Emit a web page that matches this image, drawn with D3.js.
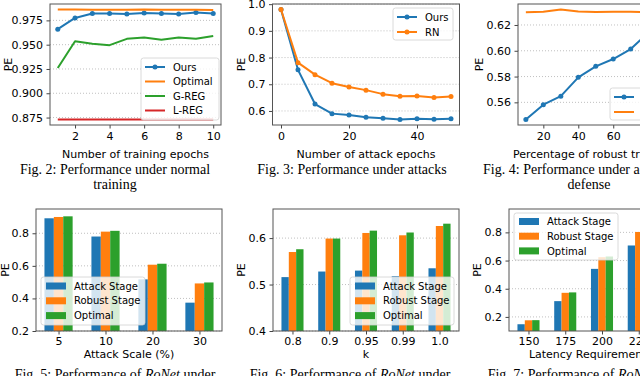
<!DOCTYPE html>
<html>
<head>
<meta charset="utf-8">
<script src="https://cdn.jsdelivr.net/npm/d3@7"></script>
<style>
body { margin: 0; background: #fff; }
svg { display: block; }
.tick text { font-family: "DejaVu Sans", sans-serif; font-size: 11px; fill: #000; }
.tick line { stroke: #444; }
.axisText { font-family: "DejaVu Sans", sans-serif; font-size: 11px; fill: #000; }
.legendText { font-family: "DejaVu Sans", sans-serif; font-size: 10px; fill: #000; }
.caption { font-family: "Liberation Serif", "Times New Roman", serif; font-size: 14px; fill: #000; }
</style>
</head>
<body>
<div class="chart"></div>
<script>
// Fig. 2 - normal training
var trainEpochs = [1, 2, 3, 4, 5, 6, 7, 8, 9, 10];
var trainOurs = [0.966, 0.9775, 0.982, 0.982, 0.9815, 0.9825, 0.982, 0.9815, 0.983, 0.982];
var trainOptimal = [0.9862, 0.9862, 0.986, 0.986, 0.986, 0.9862, 0.986, 0.986, 0.986, 0.9858];
var trainGReg = [0.926, 0.9535, 0.951, 0.9495, 0.956, 0.9575, 0.955, 0.9575, 0.956, 0.959];
var trainLReg = [0.873, 0.873, 0.873, 0.873, 0.873, 0.873, 0.873, 0.873, 0.873, 0.873];

// Fig. 3 - attacks
var attackEpochs = [0, 5, 10, 15, 20, 25, 30, 35, 40, 45, 50];
var attackOurs = [0.98, 0.754, 0.626, 0.590, 0.585, 0.576, 0.573, 0.568, 0.571, 0.569, 0.571];
var attackRN = [0.98, 0.781, 0.736, 0.704, 0.690, 0.678, 0.663, 0.655, 0.656, 0.650, 0.654];

// Fig. 4 - robust defense
var robustPct = [10, 20, 30, 40, 50, 60, 70, 80, 90, 100];
var robustOurs = [0.5467, 0.5582, 0.5648, 0.5794, 0.5879, 0.5936, 0.6013, 0.614, 0.622, 0.628];
var robustOptimal = [0.6298, 0.6302, 0.632, 0.6305, 0.630, 0.6302, 0.6302, 0.630, 0.630, 0.630];

// Fig. 5 - attack scale
var scaleCats = ["5", "10", "20", "30"];
var scaleAttack = [0.892, 0.780, 0.517, 0.374];
var scaleRobust = [0.900, 0.810, 0.607, 0.492];
var scaleOptimal = [0.904, 0.815, 0.613, 0.498];

// Fig. 6 - k
var kCats = ["0.8", "0.9", "0.95", "0.99", "1.0"];
var kAttack = [0.516, 0.528, 0.530, 0.518, 0.535];
var kRobust = [0.570, 0.599, 0.611, 0.606, 0.626];
var kOptimal = [0.576, 0.599, 0.616, 0.612, 0.631];

// Fig. 7 - latency
var latCats = ["150", "175", "200", "225", "250"];
var latAttack = [0.148, 0.312, 0.541, 0.707, 0.80];
var latRobust = [0.176, 0.371, 0.624, 0.803, 0.90];
var latOptimal = [0.177, 0.374, 0.629, 0.81, 0.92];

var blue = "#1f77b4", orange = "#ff7f0e", green = "#2ca02c", red = "#d62728";

var svg = d3.select(".chart")
  .append("svg")
  .attr("width", 640)
  .attr("height", 376);

function pad(ext) {
  var r = ext[1] - ext[0];
  return [ext[0] - r * 0.05, ext[1] + r * 0.05];
}

function drawFrame(g, box, x, y, cfg) {
  // grid
  g.append("g").selectAll("line")
    .data(cfg.yTicks)
    .enter()
    .append("line")
    .attr("x1", box.x0).attr("x2", box.x1)
    .attr("y1", d => y(d)).attr("y2", d => y(d))
    .attr("stroke", "#b0b0b0")
    .attr("stroke-width", 0.8)
    .attr("stroke-dasharray", "1,2");

  var bottomAxis = d3.axisBottom(x).tickSize(3.5).tickPadding(cfg.xPad || 3.5)
    .tickValues(cfg.xTicks).tickFormat(cfg.xTickFormat);
  var leftAxis = d3.axisLeft(y).tickValues(cfg.yTicks).tickFormat(d3.format(cfg.yFormat))
    .tickSize(3.5).tickPadding(3.5);

  g.append("g")
    .attr("transform", `translate(0, ${box.y1})`)
    .call(bottomAxis)
    .call(a => a.select(".domain").remove());
  g.append("g")
    .attr("transform", `translate(${box.x0}, 0)`)
    .call(leftAxis)
    .call(a => a.select(".domain").remove());

  g.append("text")
    .attr("class", "axisText")
    .attr("text-anchor", "middle")
    .attr("x", (box.x0 + box.x1) / 2)
    .attr("y", box.y1 + cfg.xLabelDy)
    .text(cfg.xLabel);

  g.append("text")
    .attr("class", "axisText")
    .attr("text-anchor", "middle")
    .attr("transform", `translate(${cfg.yLabelX}, ${(box.y0 + box.y1) / 2}) rotate(-90)`)
    .attr("dy", "0.36em")
    .text("PE");
}

function drawBox(g, box) {
  g.append("rect")
    .attr("x", box.x0).attr("y", box.y0)
    .attr("width", box.x1 - box.x0).attr("height", box.y1 - box.y0)
    .attr("fill", "none")
    .attr("stroke", "#555")
    .attr("stroke-width", 1);
}

function drawLegend(g, lg, items, kind) {
  g.append("rect")
    .attr("x", lg.x).attr("y", lg.y)
    .attr("width", lg.w).attr("height", lg.h)
    .attr("rx", 2.5)
    .attr("fill", "#fff").attr("fill-opacity", 0.8)
    .attr("stroke", "#d0d0d0").attr("stroke-width", 0.8);
  items.forEach(function(it, i) {
    var cy = lg.y + lg.first + i * lg.step;
    if (kind === "bar") {
      g.append("rect")
        .attr("x", lg.x + 5).attr("y", cy - 3.5)
        .attr("width", 20).attr("height", 7)
        .attr("fill", it.color);
    } else {
      g.append("line")
        .attr("x1", lg.x + 4).attr("x2", lg.x + 24)
        .attr("y1", cy).attr("y2", cy)
        .attr("stroke", it.color).attr("stroke-width", 2);
      if (it.marker) {
        g.append("circle").attr("cx", lg.x + 14).attr("cy", cy).attr("r", 2.5).attr("fill", it.color);
      }
    }
    g.append("text")
      .attr("class", "legendText")
      .attr("x", lg.x + (kind === "bar" ? 33 : 32))
      .attr("y", cy)
      .attr("dy", "0.36em")
      .text(it.label);
  });
}

function linePanel(cfg) {
  var box = cfg.box;
  var g = svg.append("g");
  var all = [];
  cfg.series.forEach(s => { all = all.concat(s.values); });
  var x = d3.scaleLinear().domain(pad(d3.extent(cfg.xs))).range([box.x0, box.x1]);
  var y = d3.scaleLinear().domain(pad(d3.extent(all))).range([box.y1, box.y0]);
  cfg.xTickFormat = d3.format("d");
  drawFrame(g, box, x, y, cfg);

  cfg.series.forEach(function(s) {
    var pts = cfg.xs.map((d, i) => [d, s.values[i]]);
    g.append("path")
      .datum(pts)
      .attr("fill", "none")
      .attr("stroke", s.color)
      .attr("stroke-width", 2)
      .attr("stroke-linejoin", "round")
      .attr("d", d3.line().x(d => x(d[0])).y(d => y(d[1])));
    if (s.marker) {
      g.selectAll(null)
        .data(pts)
        .enter()
        .append("circle")
        .attr("cx", d => x(d[0]))
        .attr("cy", d => y(d[1]))
        .attr("r", 2.5)
        .attr("fill", s.color);
    }
  });
  drawBox(g, box);
  drawLegend(g, cfg.legend, cfg.series, "line");
}

function barPanel(cfg) {
  var box = cfg.box;
  var g = svg.append("g");
  var n = cfg.cats.length;
  var m = 0.3 + (n - 1 + 0.6) * 0.05;
  var x = d3.scaleLinear().domain([-m, n - 1 + m]).range([box.x0, box.x1]);
  var y = d3.scaleLinear().domain(cfg.ylim).range([box.y1, box.y0]);
  cfg.xTicks = d3.range(n);
  cfg.xTickFormat = i => cfg.cats[i];
  cfg.xPad = 2.5;
  drawFrame(g, box, x, y, cfg);

  cfg.series.forEach(function(s, j) {
    g.selectAll(null)
      .data(s.values)
      .enter()
      .append("rect")
      .attr("x", (d, i) => x(i + (j - 1) * 0.2 - 0.1))
      .attr("width", x(0.2) - x(0))
      .attr("y", d => y(d))
      .attr("height", d => box.y1 - y(d))
      .attr("fill", s.color);
  });
  drawBox(g, box);
  drawLegend(g, cfg.legend, cfg.series, "bar");
}

linePanel({
  box: {x0: 50, x1: 221, y0: 4, y1: 125},
  xs: trainEpochs,
  xTicks: [2, 4, 6, 8, 10],
  yTicks: [0.875, 0.9, 0.925, 0.95, 0.975], yFormat: ".3f",
  xLabel: "Number of training epochs", xLabelDy: 33, yLabelX: 8,
  series: [
    {values: trainOurs, color: blue, marker: true, label: "Ours"},
    {values: trainOptimal, color: orange, label: "Optimal"},
    {values: trainGReg, color: green, label: "G-REG"},
    {values: trainLReg, color: red, label: "L-REG"}
  ],
  legend: {x: 141, y: 58, w: 78, h: 62, first: 9, step: 14.5}
});

linePanel({
  box: {x0: 272.5, x1: 459.5, y0: 4, y1: 125},
  xs: attackEpochs,
  xTicks: [0, 20, 40],
  yTicks: [0.6, 0.7, 0.8, 0.9, 1.0], yFormat: ".1f",
  xLabel: "Number of attack epochs", xLabelDy: 33, yLabelX: 241.5,
  series: [
    {values: attackOurs, color: blue, marker: true, label: "Ours"},
    {values: attackRN, color: orange, marker: true, label: "RN"}
  ],
  legend: {x: 393, y: 8, w: 60, h: 32, first: 9, step: 15}
});

linePanel({
  box: {x0: 518, x1: 691, y0: 4, y1: 125},
  xs: robustPct,
  xTicks: [20, 40, 60, 80, 100],
  yTicks: [0.56, 0.58, 0.60, 0.62], yFormat: ".2f",
  xLabel: "Percentage of robust training (%)", xLabelDy: 33, yLabelX: 479,
  series: [
    {values: robustOurs, color: blue, marker: true, label: "Ours"},
    {values: robustOptimal, color: orange, label: "Optimal"}
  ],
  legend: {x: 610, y: 88, w: 78, h: 32, first: 9, step: 15}
});

barPanel({
  box: {x0: 36, x1: 222, y0: 209, y1: 331},
  cats: scaleCats, ylim: [0.2, 0.949],
  yTicks: [0.2, 0.4, 0.6, 0.8], yFormat: ".1f",
  xLabel: "Attack Scale (%)", xLabelDy: 27, yLabelX: 5,
  series: [
    {values: scaleAttack, color: blue, label: "Attack Stage"},
    {values: scaleRobust, color: orange, label: "Robust Stage"},
    {values: scaleOptimal, color: green, label: "Optimal"}
  ],
  legend: {x: 41, y: 277, w: 104, h: 48, first: 9, step: 14.8}
});

barPanel({
  box: {x0: 273, x1: 459, y0: 209, y1: 331},
  cats: kCats, ylim: [0.4, 0.6626],
  yTicks: [0.4, 0.5, 0.6], yFormat: ".1f",
  xLabel: "k", xLabelDy: 27, yLabelX: 241.5,
  series: [
    {values: kAttack, color: blue, label: "Attack Stage"},
    {values: kRobust, color: orange, label: "Robust Stage"},
    {values: kOptimal, color: green, label: "Optimal"}
  ],
  legend: {x: 350, y: 277, w: 104, h: 48, first: 9, step: 14.8}
});

barPanel({
  box: {x0: 509, x1: 695, y0: 209, y1: 331},
  cats: latCats, ylim: [0.1, 0.966],
  yTicks: [0.2, 0.4, 0.6, 0.8], yFormat: ".1f",
  xLabel: "Latency Requirement (ms)", xLabelDy: 27, yLabelX: 477,
  series: [
    {values: latAttack, color: blue, label: "Attack Stage"},
    {values: latRobust, color: orange, label: "Robust Stage"},
    {values: latOptimal, color: green, label: "Optimal"}
  ],
  legend: {x: 514, y: 213, w: 104, h: 47, first: 8.5, step: 14.7}
});

// captions
var captions = [
  {x: 115, y: 173.5, lines: [["Fig. 2: Performance under normal"], ["training"]]},
  {x: 352, y: 173.5, lines: [["Fig. 3: Performance under attacks"]]},
  {x: 589, y: 173.5, lines: [["Fig. 4: Performance under adversarial"], ["defense"]]},
  {x: 115, y: 379, lines: [["Fig. 5: Performance of ", "RoNet", " under"]]},
  {x: 350, y: 379, lines: [["Fig. 6: Performance of ", "RoNet", " under"]]},
  {x: 588, y: 379, lines: [["Fig. 7: Performance of ", "RoNet", " under"]]}
];
captions.forEach(function(c) {
  c.lines.forEach(function(parts, li) {
    var t = svg.append("text")
      .attr("class", "caption")
      .attr("text-anchor", "middle")
      .attr("x", c.x)
      .attr("y", c.y + li * 15.5);
    parts.forEach(function(p, pi) {
      t.append("tspan")
        .style("font-style", pi === 1 ? "italic" : "normal")
        .text(p);
    });
  });
});
</script>
</body>
</html>
